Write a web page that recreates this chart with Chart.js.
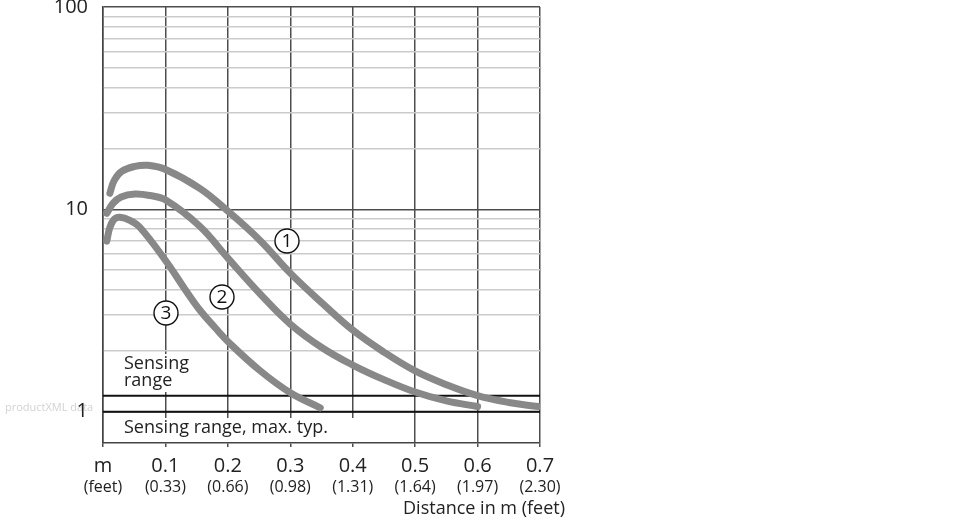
<!DOCTYPE html>
<html>
<head>
<meta charset="utf-8">
<title>Sensing range vs distance</title>
<script src="https://cdn.jsdelivr.net/npm/chart.js@4.4.1/dist/chart.umd.min.js"></script>
<style>
  body { margin: 0; background: #ffffff; }
  #wrap { width: 970px; height: 520px; }
</style>
</head>
<body>
<div id="wrap"><canvas id="rangeChart" width="970" height="520"></canvas></div>
<script>
// x axis: distance in m, feet underneath
var xTickValues = [0, 0.1, 0.2, 0.3, 0.4, 0.5, 0.6, 0.7];
var xMeterLabels = ['m', '0.1', '0.2', '0.3', '0.4', '0.5', '0.6', '0.7'];
var xFeetLabels = ['(feet)', '(0.33)', '(0.66)', '(0.98)', '(1.31)', '(1.64)', '(1.97)', '(2.30)'];

// y axis (log)
var yGridValues = [1, 2, 3, 4, 5, 6, 7, 8, 9, 10, 20, 30, 40, 50, 60, 70, 80, 90, 100];
var yLabelValues = [1, 10, 100];

// curve 1
var curve1Dist = [0.011, 0.018, 0.030, 0.051, 0.072, 0.101, 0.155, 0.200, 0.252, 0.300, 0.351, 0.400, 0.450, 0.500, 0.550, 0.600, 0.650, 0.697];
var curve1Value = [12.0, 13.9, 15.4, 16.3, 16.5, 15.7, 12.7, 9.8, 7.0, 4.84, 3.44, 2.53, 1.97, 1.59, 1.36, 1.20, 1.11, 1.06];

// curve 2
var curve2Dist = [0.006, 0.016, 0.029, 0.051, 0.075, 0.101, 0.155, 0.200, 0.252, 0.300, 0.351, 0.400, 0.450, 0.500, 0.550, 0.600];
var curve2Value = [9.55, 10.7, 11.5, 11.9, 11.7, 11.1, 8.25, 5.74, 3.81, 2.71, 2.07, 1.70, 1.44, 1.25, 1.13, 1.06];

// curve 3
var curve3Dist = [0.006, 0.011, 0.018, 0.027, 0.043, 0.059, 0.101, 0.131, 0.155, 0.180, 0.202, 0.252, 0.300, 0.348];
var curve3Value = [6.96, 8.15, 8.93, 9.14, 8.83, 8.15, 5.54, 4.04, 3.18, 2.59, 2.19, 1.59, 1.24, 1.045];

var sensingRange = 1.2;
var sensingRangeMax = 1;

var FONT = '"Open Sans", "Noto Sans", sans-serif';
var TEXT = '#222222';

function toPoints(xs, ys) {
    return xs.map(function (x, i) { return { x: x, y: ys[i] }; });
}

function curve(xs, ys) {
    return {
        data: toPoints(xs, ys),
        borderColor: '#888888',
        borderWidth: 7,
        borderCapStyle: 'round',
        borderJoinStyle: 'round',
        pointRadius: 0,
        fill: false,
        tension: 0.4,
        order: 0
    };
}

function hline(v) {
    var x0 = xTickValues[0], x1 = xTickValues[xTickValues.length - 1];
    return {
        data: [{ x: x0, y: v }, { x: x1, y: v }],
        borderColor: '#111111',
        borderWidth: 2,
        pointRadius: 0,
        fill: false,
        order: 5
    };
}

function circled(ctx, n, cx, cy) {
    ctx.beginPath();
    ctx.arc(cx, cy, 12, 0, Math.PI * 2);
    ctx.fillStyle = '#ffffff';
    ctx.fill();
    ctx.lineWidth = 1.4;
    ctx.strokeStyle = '#111111';
    ctx.stroke();
    ctx.fillStyle = '#111111';
    ctx.font = '19px ' + FONT;
    ctx.textAlign = 'center';
    ctx.textBaseline = 'middle';
    ctx.fillText(n, cx, cy + 1);
}

var notes = {
    id: 'notes',
    beforeDraw: function (chart) {
        var ctx = chart.ctx;
        ctx.save();
        ctx.font = '11px ' + FONT;
        ctx.fillStyle = '#d2d2d2';
        ctx.textBaseline = 'alphabetic';
        ctx.fillText('productXML data', 5, 411);
        ctx.restore();
    },
    beforeDatasetsDraw: function (chart) {
        var ctx = chart.ctx, a = chart.chartArea;
        ctx.save();
        // white patches behind the captions
        ctx.fillStyle = '#ffffff';
        ctx.fillRect(a.left + 1, 418, 255, a.bottom - 418 - 1);
        ctx.fillRect(120, 354, 76, 38);

        ctx.fillStyle = TEXT;
        ctx.font = '18px ' + FONT;
        ctx.textAlign = 'left';
        ctx.textBaseline = 'alphabetic';
        ctx.fillText('Sensing', 124, 369);
        ctx.fillText('range', 124, 386);
        ctx.fillText('Sensing range, max. typ.', 124, 433);

        circled(ctx, '1', 287, 241);
        circled(ctx, '2', 222, 297);
        circled(ctx, '3', 166, 313);
        ctx.restore();
    },
    afterDraw: function (chart) {
        var ctx = chart.ctx;
        ctx.save();
        ctx.fillStyle = TEXT;
        ctx.font = '18px ' + FONT;
        ctx.textAlign = 'right';
        ctx.textBaseline = 'alphabetic';
        ctx.fillText('Distance in m (feet)', 565, 514);
        ctx.restore();
    }
};

var setXTicks = function (s) {
    s.ticks = xTickValues.map(function (v) { return { value: v }; });
};

var chart = new Chart(document.getElementById('rangeChart').getContext('2d'), {
    type: 'line',
    data: {
        datasets: [
            curve(curve1Dist, curve1Value),
            curve(curve2Dist, curve2Value),
            curve(curve3Dist, curve3Value),
            hline(sensingRange),
            hline(sensingRangeMax)
        ]
    },
    options: {
        responsive: false,
        animation: false,
        events: [],
        layout: { padding: { left: 0, top: 7, right: 430, bottom: 0 } },
        plugins: { legend: { display: false }, tooltip: { enabled: false } },
        scales: {
            x: {
                type: 'linear',
                position: 'bottom',
                weight: 0,
                min: 0,
                max: 0.7,
                afterBuildTicks: setXTicks,
                ticks: {
                    callback: function (v, i) { return xMeterLabels[i]; },
                    font: { family: FONT, size: 20 },
                    color: TEXT,
                    padding: 7,
                    maxRotation: 0,
                    autoSkip: false
                },
                grid: { color: '#4d4d4d', lineWidth: 1.5, tickLength: 4, drawTicks: true },
                border: { color: '#444444', width: 1.5 },
                afterFit: function (s) { s.height = 35; s.paddingLeft = 0; s.paddingRight = 0; }
            },
            x2: {
                type: 'linear',
                position: 'bottom',
                weight: 1,
                min: 0,
                max: 0.7,
                afterBuildTicks: setXTicks,
                ticks: {
                    callback: function (v, i) { return xFeetLabels[i]; },
                    font: { family: FONT, size: 16 },
                    color: TEXT,
                    padding: 0,
                    maxRotation: 0,
                    autoSkip: false
                },
                grid: { display: false, drawTicks: false },
                border: { display: false },
                afterFit: function (s) { s.height = 42; s.paddingLeft = 0; s.paddingRight = 0; }
            },
            y: {
                type: 'logarithmic',
                min: 0.71,
                max: 100,
                afterBuildTicks: function (s) {
                    s.ticks = yGridValues.map(function (v) { return { value: v }; });
                },
                ticks: {
                    callback: function (v) { return yLabelValues.indexOf(v) >= 0 ? String(v) : ''; },
                    font: { family: FONT, size: 20 },
                    color: TEXT,
                    padding: 15,
                    autoSkip: false
                },
                grid: {
                    color: function (c) {
                        return c.tick && yLabelValues.indexOf(c.tick.value) >= 0 ? '#4d4d4d' : '#cbcbcb';
                    },
                    lineWidth: 1.5,
                    drawTicks: false
                },
                border: { color: '#444444', width: 1.5 },
                afterFit: function (s) { s.width = 103; s.paddingTop = 0; s.paddingBottom = 0; }
            }
        }
    },
    plugins: [notes]
});
</script>
</body>
</html>
